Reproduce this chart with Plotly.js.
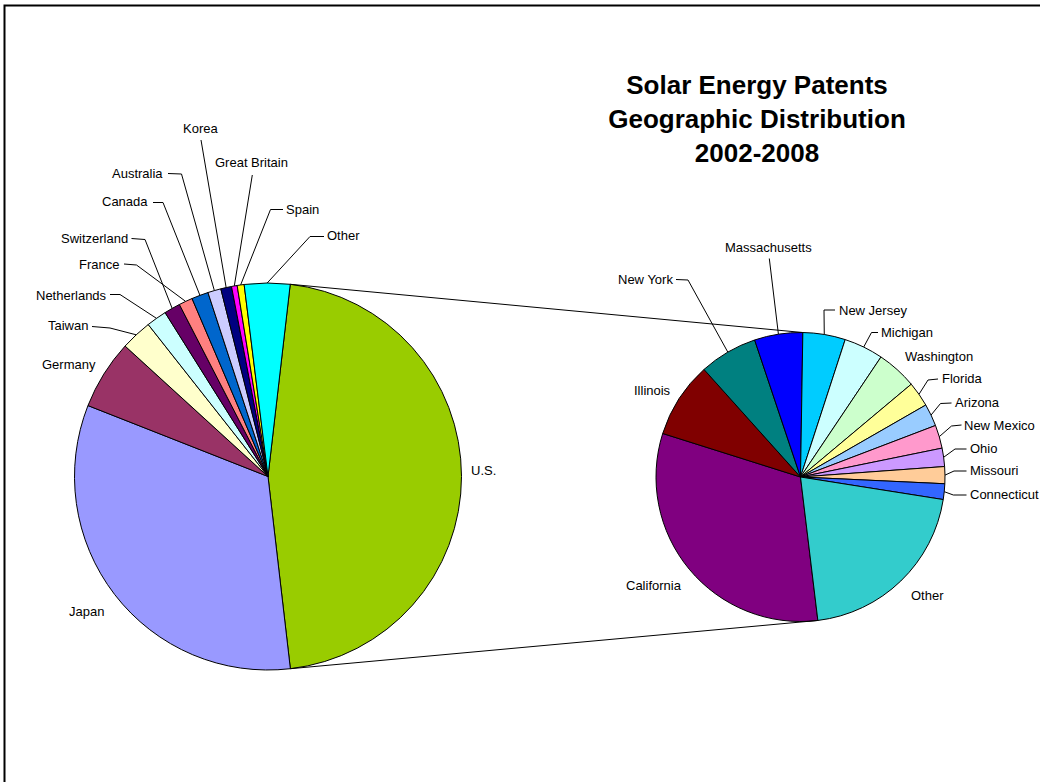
<!DOCTYPE html>
<html><head><meta charset="utf-8">
<script src="https://cdn.plot.ly/plotly-3.0.1.min.js"></script>
<style>html,body{margin:0;padding:0;background:#fff;} #chart{width:1040px;height:782px;}</style>
</head><body><div id="chart"></div>
<script>
// ---- data (shares of patents, %) ----
const countries = ['U.S.','Japan','Germany','Taiwan','Netherlands','Switzerland','France','Canada','Australia','Korea','Great Britain','Spain','Other'];
const countryShares = [46.3, 32.8, 5.8, 2.6, 1.7, 1.35, 1.15, 1.4, 1.1, 0.9, 0.47, 0.58, 3.8];
const countryColors = ['#99CC00','#9999FF','#993366','#FFFFCC','#CCFFFF','#660066','#FF8080','#0066CC','#CCCCFF','#000080','#FF00FF','#FFFF00','#00FFFF'];

const states = ['California','Illinois','New York','Massachusetts','New Jersey','Michigan','Washington','Florida','Arizona','New Mexico','Ohio','Missouri','Connecticut','Other'];
const stateShares = [31.8, 8.5, 6.5, 5.4, 4.75, 4.4, 4.5, 2.8, 2.5, 2.6, 2.05, 1.9, 1.75, 20.6];
const stateColors = ['#800080','#800000','#008080','#0000FF','#00CCFF','#CCFFFF','#CCFFCC','#FFFF99','#99CCFF','#FF99CC','#CC99FF','#FFCC99','#3366FF','#33CCCC'];

const titleText = 'Solar Energy Patents<br>Geographic Distribution<br>2002-2008';

// ---- layout (pixels) ----
const W = 1040, H = 782;
const mainPie = {cx: 268, cy: 476.5, r: 193.5, rotation: 6.6};
const subPie  = {cx: 800.5, cy: 477, r: 144.5, rotation: 173.1};

// label placement: [textX, textY, anchor, lineStart or null, elbow or null]
const countryLabelPos = [
  [470, 470, 'left', null, null],
  [68, 611, 'left', null, null],
  [41, 364, 'left', null, null],
  [89, 326, 'right', [92, 326.5], [110, 328]],
  [107.5, 295, 'right', [110, 294.5], [120, 294.5]],
  [128.5, 238.5, 'right', [131.5, 238.5], [145, 239.5]],
  [120, 264, 'right', [124, 264], [136.5, 265]],
  [148.5, 201.5, 'right', [153, 202.5], [163, 202.5]],
  [163.5, 173.5, 'right', [168, 173.5], [181.5, 174]],
  [200, 128.5, 'center', [201, 140], null],
  [251.5, 162.5, 'center', [252.3, 175], null],
  [285, 209.5, 'left', [283, 209.5], [270.5, 209.5]],
  [326, 236, 'left', [324, 236.5], [310, 236.5]]
];
const stateLabelPos = [
  [625, 585, 'left', null, null],
  [633, 390.5, 'left', null, null],
  [673.5, 279.5, 'right', [676, 279.5], [688, 280]],
  [768, 247.5, 'center', [769.3, 258.5], null],
  [837.5, 310, 'left', [835, 310], [824, 310]],
  [880, 332.5, 'left', [878, 332.5], [871.5, 332.5]],
  [903.5, 356, 'left', null, null],
  [940.5, 378.5, 'left', [938, 379], [928, 380]],
  [953.5, 402.5, 'left', [951.5, 403], [940.5, 403.5]],
  [962.5, 425, 'left', [961.5, 425], [951.5, 426]],
  [968.5, 448.5, 'left', [966.5, 449], [955, 449]],
  [968.5, 470.5, 'left', [966.5, 471], [954, 471]],
  [968.5, 494, 'left', [966.5, 495], [953.3, 495]],
  [909.5, 595, 'left', null, null]
];

const FONT = 'Liberation Sans, Arial, Helvetica, sans-serif';
const px = x => x / W;
const py = y => 1 - y / H;

function domainOf(p) {
  return {x: [(p.cx - p.r) / W, (p.cx + p.r) / W], y: [1 - (p.cy + p.r) / H, 1 - (p.cy - p.r) / H]};
}
function edgePoint(p, deg) {
  const a = deg * Math.PI / 180;
  return [p.cx + p.r * Math.sin(a), p.cy - p.r * Math.cos(a)];
}
function boundaries(p, vals) {
  const tot = vals.reduce((s, v) => s + v, 0);
  const b = [p.rotation];
  let c = 0;
  vals.forEach(v => { c += v; b.push(p.rotation + c / tot * 360); });
  return b;
}

const annotations = [];
const shapes = [];

function addLabels(p, names, vals, pos) {
  const b = boundaries(p, vals);
  names.forEach((n, i) => {
    const [tx, ty, anc, ls, el] = pos[i];
    annotations.push({
      text: n, xref: 'paper', yref: 'paper', x: px(tx), y: py(ty),
      xanchor: anc, yanchor: 'middle', showarrow: false,
      font: {family: FONT, size: 13, color: '#000'}, borderpad: 0
    });
    if (ls) {
      const mid = (b[i] + b[i + 1]) / 2;
      const e = edgePoint(p, mid);
      let path = `M ${px(ls[0])},${py(ls[1])}`;
      if (el) path += ` L ${px(el[0])},${py(el[1])}`;
      path += ` L ${px(e[0])},${py(e[1])}`;
      shapes.push({type: 'path', xref: 'paper', yref: 'paper', path, line: {color: '#000', width: 1}});
    }
  });
  return b;
}

const bMain = addLabels(mainPie, countries, countryShares, countryLabelPos);
const bSub = addLabels(subPie, states, stateShares, stateLabelPos);

// connector lines from the U.S. slice to the breakdown pie
const usStart = edgePoint(mainPie, bMain[0]);
const usEnd = edgePoint(mainPie, bMain[1]);
const subTop = edgePoint(subPie, bSub[4]);
const subBottom = edgePoint(subPie, bSub[0]);
shapes.push({type: 'line', xref: 'paper', yref: 'paper', x0: px(usStart[0]), y0: py(usStart[1]), x1: px(subTop[0]), y1: py(subTop[1]), line: {color: '#000', width: 1}});
shapes.push({type: 'line', xref: 'paper', yref: 'paper', x0: px(usEnd[0]), y0: py(usEnd[1]), x1: px(subBottom[0]), y1: py(subBottom[1]), line: {color: '#000', width: 1}});

// chart frame
shapes.push({type: 'rect', xref: 'paper', yref: 'paper', x0: px(4.5), y0: py(795), x1: px(1060), y1: py(5.5), line: {color: '#000', width: 2}});

const traces = [
  {type: 'pie', labels: countries, values: countryShares, sort: false, direction: 'clockwise',
   rotation: mainPie.rotation, domain: domainOf(mainPie), textinfo: 'none', hoverinfo: 'label+percent',
   marker: {colors: countryColors, line: {color: '#000', width: 1}}},
  {type: 'pie', labels: states, values: stateShares, sort: false, direction: 'clockwise',
   rotation: subPie.rotation, domain: domainOf(subPie), textinfo: 'none', hoverinfo: 'label+percent',
   marker: {colors: stateColors, line: {color: '#000', width: 1}}}
];

const layout = {
  width: W, height: H, margin: {l: 0, r: 0, t: 0, b: 0},
  paper_bgcolor: '#fff', showlegend: false,
  title: {text: titleText, x: px(757), xanchor: 'center', xref: 'paper', y: py(94), yanchor: 'top', yref: 'paper',
          font: {family: FONT, size: 26, color: '#000', weight: 'bold'}},
  annotations, shapes
};

Plotly.newPlot('chart', traces, layout, {displayModeBar: false, staticPlot: true});
</script></body></html>
